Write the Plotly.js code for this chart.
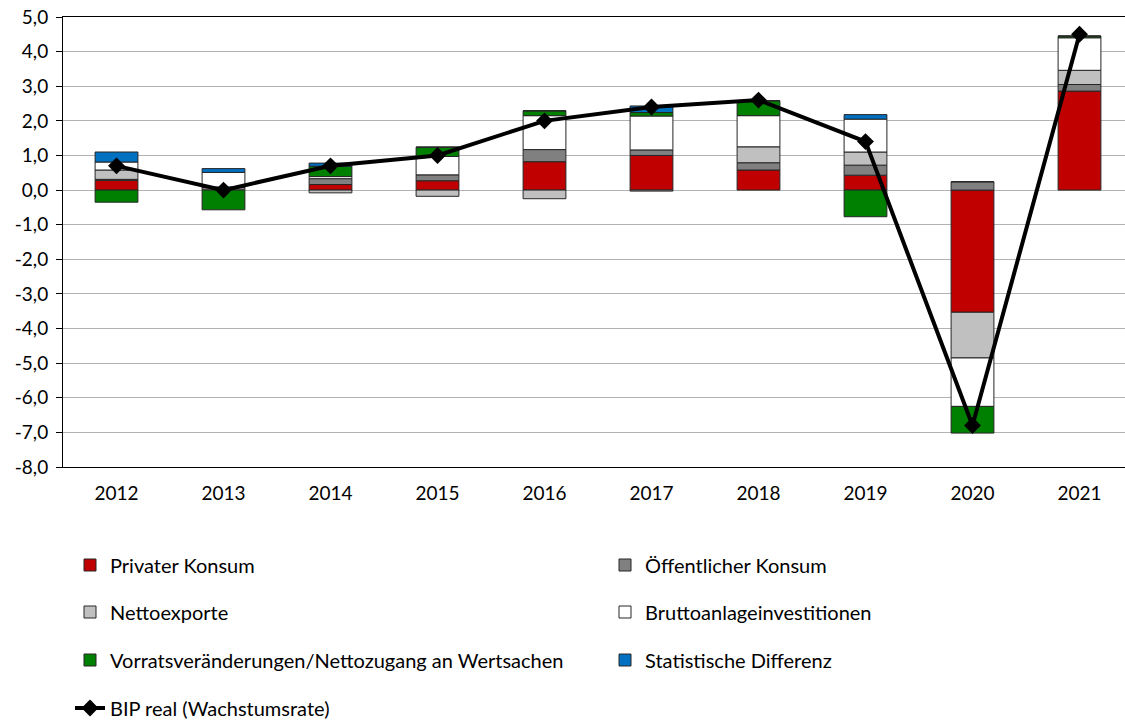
<!DOCTYPE html>
<html>
<head>
<meta charset="utf-8">
<script src="https://cdn.plot.ly/plotly-3.0.1.min.js"></script>
<style>
html,body{margin:0;padding:0;overflow:hidden;background:#fff;}
</style>
</head>
<body>
<div id="chart"></div>
<script>
const years = ["2012","2013","2014","2015","2016","2017","2018","2019","2020","2021"];
const privaterKonsum   = [0.28, 0.00, 0.16, 0.27, 0.82, 1.00, 0.58, 0.43, -3.53, 2.86];
const oeffKonsum       = [0.03, 0.09, 0.17, 0.17, 0.35, 0.16, 0.21, 0.29, 0.24, 0.19];
const nettoexporte     = [0.27, 0.00, -0.08, -0.18, -0.25, -0.03, 0.46, 0.38, -1.32, 0.41];
const bruttoanlage     = [0.23, 0.42, 0.06, 0.53, 0.98, 0.98, 0.90, 0.95, -1.40, 0.94];
const vorrats          = [-0.35, -0.57, 0.30, 0.27, 0.14, 0.10, 0.43, -0.77, -0.77, 0.05];
const statDiff         = [0.29, 0.11, 0.09, 0.00, 0.00, 0.19, 0.00, 0.13, 0.00, 0.00];
const bipReal          = [0.7, 0.0, 0.7, 1.0, 2.0, 2.4, 2.6, 1.4, -6.8, 4.5];
const yTickVals  = [5, 4, 3, 2, 1, 0, -1, -2, -3, -4, -5, -6, -7, -8];
const yTickText  = ["5,0","4,0","3,0","2,0","1,0","0,0","-1,0","-2,0","-3,0","-4,0","-5,0","-6,0","-7,0","-8,0"];
const separatorPos = [0.5,1.5,2.5,3.5,4.5,5.5,6.5,7.5,8.5];

const FONT = "Lato, 'Open Sans', sans-serif";
const W = 1133, H = 722, ML = 63, MR = 0, MT = 17, MB = 255;
const PW = W - ML - MR, PH = H - MT - MB;
function px2x(p){ return (p - ML) / PW; }
function py2y(p){ return (H - MB - p) / PH; }

const edge = {color:'#262626', width:1};
function bar(name, vals, color, legendId){
  return {type:'bar', name:name, x:years, y:vals, marker:{color:color, line:edge},
          legend:legendId, hoverinfo:'x+y+name'};
}
const traces = [
  bar('Privater Konsum', privaterKonsum, '#C00000', 'legend'),
  bar('Öffentlicher Konsum', oeffKonsum, '#808080', 'legend2'),
  bar('Nettoexporte', nettoexporte, '#C0C0C0', 'legend3'),
  bar('Bruttoanlageinvestitionen', bruttoanlage, '#FFFFFF', 'legend4'),
  bar('Vorratsveränderungen/Nettozugang an Wertsachen', vorrats, '#008000', 'legend5'),
  bar('Statistische Differenz', statDiff, '#0070C0', 'legend6'),
  {type:'scatter', mode:'lines+markers', name:'BIP real (Wachstumsrate)', x:years, y:bipReal,
   line:{color:'#000000', width:4}, marker:{symbol:'diamond', size:13, color:'#000000'},
   legend:'legend7'}
];

const legFont = {family:FONT, size:20, color:'#000'};
function leg(xp, yp){
  return {x:px2x(xp), y:py2y(yp), xanchor:'left', yanchor:'middle', orientation:'h',
          font:legFont, bgcolor:'rgba(0,0,0,0)', itemwidth:30, traceorder:'normal'};
}
const col1 = 70, col2 = 605;
const rows = [565, 612, 660, 708];

const layout = {
  width: W, height: H,
  margin: {l:ML, r:MR, t:MT, b:MB, pad:0, autoexpand:false},
  paper_bgcolor:'#fff', plot_bgcolor:'#fff',
  barmode:'relative', bargap:0.6,
  font:{family:FONT, size:18, color:'#000'},
  showlegend:true,
  xaxis:{type:'category', showline:true, mirror:true, linecolor:'#000', linewidth:1,
         ticks:'', showgrid:false, tickfont:{family:FONT, size:19}, ticklabelstandoff:9,
         range:[-0.5, 9.5], zeroline:false, fixedrange:true, automargin:false},
  xaxis2:{overlaying:'x', anchor:'free', position:8/13, range:[-0.5,9.5],
          tickmode:'array', tickvals:separatorPos, ticks:'inside', ticklen:7, tickcolor:'#000',
          showticklabels:false, showline:true, linecolor:'#000', linewidth:1,
          showgrid:false, zeroline:false, side:'bottom'},
  yaxis:{range:[-8,5], tickmode:'array', tickvals:yTickVals, ticktext:yTickText,
         showline:true, linecolor:'#000', linewidth:1, ticks:'outside', ticklen:6, tickcolor:'#000',
         showgrid:true, gridcolor:'#B3B3B3', gridwidth:1, zeroline:false, automargin:false,
         tickfont:{family:FONT, size:19}, ticklabelstandoff:4, fixedrange:true},
  legend:  leg(col1, rows[0]),
  legend2: leg(col2, rows[0]),
  legend3: leg(col1, rows[1]),
  legend4: leg(col2, rows[1]),
  legend5: leg(col1, rows[2]),
  legend6: leg(col2, rows[2]),
  legend7: leg(col1, rows[3])
};

Plotly.newPlot('chart', traces, layout, {displayModeBar:false, staticPlot:true});
</script>
</body>
</html>
